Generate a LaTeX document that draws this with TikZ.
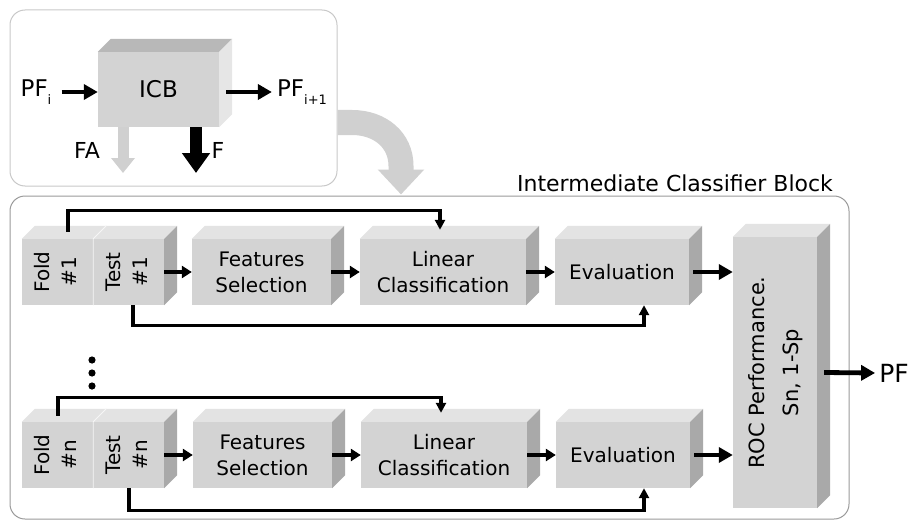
\documentclass[tikz,border=0pt]{standalone}
\usepackage{graphicx}
\usepackage{fontspec}
\setmainfont{DejaVu Sans}
\definecolor{facefront}{HTML}{D3D3D3}
\definecolor{facetop}{HTML}{E3E3E3}
\definecolor{faceside}{HTML}{A9A9A9}
\definecolor{icbtop}{HTML}{B8B8B8}
\definecolor{icbside}{HTML}{E6E6E6}
\definecolor{flowgray}{HTML}{D0D0D0}
\definecolor{panelline}{HTML}{C8C8C8}
\definecolor{blockline}{HTML}{9A9A9A}
\usetikzlibrary{arrows.meta,positioning,calc}

% top and right faces of a box drawn on a named front node
\newcommand{\cubefaces}[3]{%
  \fill[#2] (#1.north west) -- ++(13pt,13pt) -- ([shift={(13pt,13pt)}]#1.north east) -- (#1.north east) -- cycle;
  \fill[#3] (#1.north east) -- ++(13pt,13pt) -- ([shift={(13pt,13pt)}]#1.south east) -- (#1.south east) -- cycle;
}
\newcommand{\vtext}[2]{\rotatebox{90}{\fontsize{20}{27.5}\selectfont\begin{tabular}{@{}c@{}}#1\\#2\end{tabular}}}

\begin{document}
\begin{tikzpicture}[x=1pt,y=-1pt,
  cubeblock/.style={fill=facefront, inner sep=0pt, align=center, font=\fontsize{20}{26}\selectfont},
  panel/.style={rounded corners=15pt, line width=1pt, inner sep=0pt},
  plainlabel/.style={inner sep=0pt, font=\fontsize{22}{26}\selectfont},
  flow/.style={-{Triangle[width=12pt,length=10pt]}, line width=4pt},
  bigflow/.style={-{Triangle[width=15pt,length=14pt]}, line width=4.8pt},
  link/.style={-{Triangle[width=10pt,length=10pt]}, line width=3.2pt}]

\useasboundingbox (0,0) rectangle (912,524);

%% Panels
\node[panel, draw=panelline, minimum width=327pt, minimum height=176pt] (toppanel) at (173.5,98) {};
\node[panel, draw=blockline, minimum width=839pt, minimum height=323pt] (bigpanel) at (429.5,357.5) {};
\node[plainlabel] (blocktitle) at (675,183) {Intermediate Classifier Block};

%% ICB block
\node[cubeblock, minimum width=121pt, minimum height=75pt, font=\fontsize{23}{26}\selectfont] (icb) at (158.5,89.5) {ICB};
\cubefaces{icb}{icbtop}{icbside}
\node[plainlabel, font=\fontsize{23}{26}\selectfont] (pfi) at (36,92) {PF\raisebox{-8pt}{\fontsize{13}{13}\selectfont i}};
\node[plainlabel, font=\fontsize{23}{26}\selectfont] (pfnext) at (302,92) {PF\raisebox{-8pt}{\fontsize{13}{13}\selectfont i+1}};
\node[plainlabel] (fa) at (87,150) {FA};
\node[plainlabel] (f) at (218,150) {F};
\coordinate (faend) at (123,173);
\coordinate (fend) at (196,173);

\draw[bigflow] ([xshift=10pt]pfi.east |- 0,92) -- (icb.west |- 0,92);
\draw[bigflow] ([xshift=7pt]icb.east |- 0,92) -- ([xshift=-5pt]pfnext.west |- 0,92);
\draw[flowgray, line width=11pt, -{Triangle[width=23pt,length=15pt]}] (icb.south -| faend) -- (faend);
\draw[line width=12pt, -{Triangle[width=27pt,length=20pt]}] (icb.south -| fend) -- (fend);

%% Turn into the block
\draw[flowgray, line width=25pt, -{Triangle[width=45pt,length=25pt]}]
  ([yshift=-24.5pt]toppanel.east) -- (352,122.5) .. controls (380,122.5) and (401,140) .. (401,166) -- ([xshift=-28.5pt,yshift=1pt]bigpanel.north);

%% First fold
\node[cubeblock, minimum width=71pt, minimum height=66pt] (fold1) at (57.5,272) {\vtext{Fold}{\#1}};
\cubefaces{fold1}{facetop}{faceside}
\node[cubeblock, minimum width=71pt, minimum height=66pt] (test1) at (128.5,272) {\vtext{Test}{\#1}};
\cubefaces{test1}{facetop}{faceside}
\draw[white!80!facefront, line width=0.8pt] (fold1.south east) -- (fold1.north east) -- ++(13pt,13pt);
\node[cubeblock, minimum width=139pt, minimum height=66pt] (feat1) at (261.5,272) {Features\\Selection};
\cubefaces{feat1}{facetop}{faceside}
\node[cubeblock, minimum width=166pt, minimum height=66pt] (lin1) at (443,272) {Linear\\Classification};
\cubefaces{lin1}{facetop}{faceside}
\node[cubeblock, minimum width=134pt, minimum height=66pt] (eval1) at (622,272) {Evaluation};
\cubefaces{eval1}{facetop}{faceside}

%% n-th fold
\node[cubeblock, minimum width=71pt, minimum height=66pt] (foldn) at (57.5,455) {\vtext{Fold}{\#n}};
\cubefaces{foldn}{facetop}{faceside}
\node[cubeblock, minimum width=71pt, minimum height=66pt] (testn) at (128.5,455) {\vtext{Test}{\#n}};
\cubefaces{testn}{facetop}{faceside}
\draw[white!80!facefront, line width=0.8pt] (foldn.south east) -- (foldn.north east) -- ++(13pt,13pt);
\node[cubeblock, minimum width=139pt, minimum height=66pt] (featn) at (262.5,455) {Features\\Selection};
\cubefaces{featn}{facetop}{faceside}
\node[cubeblock, minimum width=166pt, minimum height=66pt] (linn) at (444,455) {Linear\\Classification};
\cubefaces{linn}{facetop}{faceside}
\node[cubeblock, minimum width=134pt, minimum height=66pt] (evaln) at (623,455) {Evaluation};
\cubefaces{evaln}{facetop}{faceside}

%% ROC block
\node[cubeblock, minimum width=84pt, minimum height=271pt] (roc) at (775,372.5) {\rotatebox{90}{\fontsize{21}{34}\selectfont\begin{tabular}{@{}c@{}}ROC Performance.\\Sn, 1-Sp\end{tabular}}};
\cubefaces{roc}{facetop}{faceside}
\node[plainlabel, font=\fontsize{25}{28}\selectfont] (pf) at (894,373) {PF};

%% dots between folds
\fill (92,360) circle (3.6pt);
\fill (92,373) circle (3.6pt);
\fill (92,386) circle (3.6pt);

%% Arrows
\draw[flow] (test1.east) -- (feat1.west);
\draw[flow] (feat1.east) -- (lin1.west);
\draw[flow] (lin1.east) -- (eval1.west);
\draw[bigflow] ([xshift=4pt]eval1.east) -- (roc.west |- eval1.east);
\draw[flow] (testn.east) -- (featn.west);
\draw[flow] (featn.east) -- (linn.west);
\draw[flow] (linn.east) -- (evaln.west);
\draw[bigflow] ([xshift=4pt]evaln.east) -- (roc.west |- evaln.east);
\draw[bigflow] ([xshift=7pt]roc.east) -- ([xshift=-4pt]pf.west);

\draw[link] ([shift={(10.5pt,7pt)}]fold1.north) |- ([shift={(-3pt,28pt)}]lin1.north) -- ([shift={(-3pt,9pt)}]lin1.north);
\draw[link] ([xshift=4.5pt]test1.south) |- ([shift={(22pt,-20pt)}]eval1.south) -- ([xshift=22pt]eval1.south);
\draw[link] ([shift={(0.5pt,6pt)}]foldn.north) |- ([shift={(-3pt,24pt)}]linn.north) -- ([shift={(-3pt,9pt)}]linn.north);
\draw[link] ([xshift=0.5pt]testn.south) |- ([shift={(21pt,-22pt)}]evaln.south) -- ([xshift=21pt]evaln.south);
\end{tikzpicture}
\end{document}
